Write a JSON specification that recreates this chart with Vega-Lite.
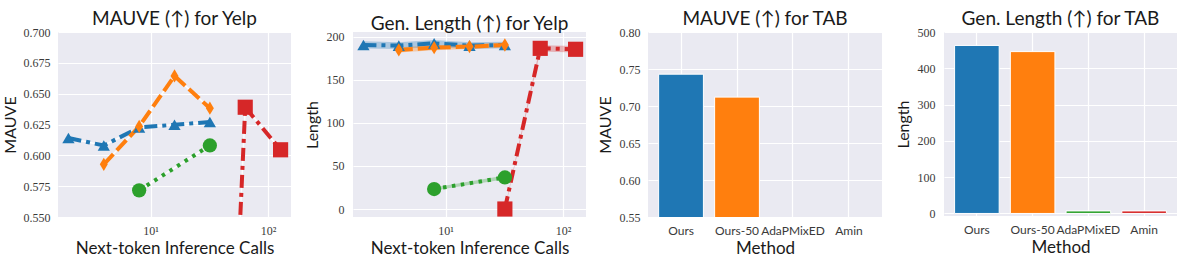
{
  "$schema": "https://vega.github.io/schema/vega-lite/v6.json",
  "padding": {"left": 2, "top": 10, "right": 2, "bottom": 2},
  "bounds": "flush",
  "spacing": 62,
  "datasets": {
    "yelp": [
      {"metric": "mauve", "method": "Ours", "calls": 2, "value": 0.614, "lo": 0.614, "hi": 0.614},
      {"metric": "mauve", "method": "Ours", "calls": 4, "value": 0.608, "lo": 0.608, "hi": 0.608},
      {"metric": "mauve", "method": "Ours", "calls": 8, "value": 0.6226, "lo": 0.6226, "hi": 0.6226},
      {"metric": "mauve", "method": "Ours", "calls": 16, "value": 0.6248, "lo": 0.6248, "hi": 0.6248},
      {"metric": "mauve", "method": "Ours", "calls": 32, "value": 0.627, "lo": 0.627, "hi": 0.627},
      {"metric": "mauve", "method": "Ours-50", "calls": 4, "value": 0.5927, "lo": 0.5927, "hi": 0.5927},
      {"metric": "mauve", "method": "Ours-50", "calls": 8, "value": 0.6234, "lo": 0.6234, "hi": 0.6234},
      {"metric": "mauve", "method": "Ours-50", "calls": 16, "value": 0.6644, "lo": 0.6644, "hi": 0.6644},
      {"metric": "mauve", "method": "Ours-50", "calls": 32, "value": 0.6382, "lo": 0.6382, "hi": 0.6382},
      {"metric": "mauve", "method": "AdaPMixED", "calls": 8, "value": 0.5716, "lo": 0.5716, "hi": 0.5716},
      {"metric": "mauve", "method": "AdaPMixED", "calls": 32, "value": 0.608, "lo": 0.608, "hi": 0.608},
      {"metric": "mauve", "method": "Amin", "calls": 32, "value": 0.005, "lo": 0.005, "hi": 0.005},
      {"metric": "mauve", "method": "Amin", "calls": 64, "value": 0.639, "lo": 0.639, "hi": 0.639},
      {"metric": "mauve", "method": "Amin", "calls": 128, "value": 0.6045, "lo": 0.6045, "hi": 0.6045},
      {"metric": "length", "method": "Ours", "calls": 2, "value": 190.7, "lo": 186.5, "hi": 195},
      {"metric": "length", "method": "Ours", "calls": 4, "value": 190, "lo": 186, "hi": 194},
      {"metric": "length", "method": "Ours", "calls": 8, "value": 192.6, "lo": 188.5, "hi": 196.5},
      {"metric": "length", "method": "Ours", "calls": 16, "value": 190, "lo": 186, "hi": 194},
      {"metric": "length", "method": "Ours", "calls": 32, "value": 190.7, "lo": 187, "hi": 194.5},
      {"metric": "length", "method": "Ours-50", "calls": 4, "value": 184.9, "lo": 182, "hi": 188},
      {"metric": "length", "method": "Ours-50", "calls": 8, "value": 187.6, "lo": 184.5, "hi": 190.5},
      {"metric": "length", "method": "Ours-50", "calls": 16, "value": 188.8, "lo": 186, "hi": 191.5},
      {"metric": "length", "method": "Ours-50", "calls": 32, "value": 190.7, "lo": 188, "hi": 193.5},
      {"metric": "length", "method": "AdaPMixED", "calls": 8, "value": 23.2, "lo": 21.5, "hi": 25},
      {"metric": "length", "method": "AdaPMixED", "calls": 32, "value": 36.7, "lo": 34.5, "hi": 39},
      {"metric": "length", "method": "Amin", "calls": 32, "value": 0, "lo": -1, "hi": 1},
      {"metric": "length", "method": "Amin", "calls": 64, "value": 186.8, "lo": 183, "hi": 190.5},
      {"metric": "length", "method": "Amin", "calls": 128, "value": 185.7, "lo": 182, "hi": 189.5}
    ],
    "tab": [
      {"metric": "mauve", "method": "Ours", "value": 0.743},
      {"metric": "mauve", "method": "Ours-50", "value": 0.712},
      {"metric": "mauve", "method": "AdaPMixED", "value": 0.006},
      {"metric": "mauve", "method": "Amin", "value": 0.004},
      {"metric": "length", "method": "Ours", "value": 463},
      {"metric": "length", "method": "Ours-50", "value": 446},
      {"metric": "length", "method": "AdaPMixED", "value": 7},
      {"metric": "length", "method": "Amin", "value": 7}
    ]
  },
  "config": {
    "view": {"fill": "#EAEAF2", "stroke": null},
    "font": "Lato",
    "axis": {
      "domain": false, "ticks": false, "grid": true, "gridColor": "#FFFFFF", "gridWidth": 1.2,
      "labelFont": "Liberation Serif", "labelFontSize": 12, "labelColor": "#3a3a3a", "labelPadding": 8,
      "titleFont": "Lato", "titleFontSize": 17, "titleFontWeight": "normal", "titleColor": "#1a1a1a", "titlePadding": 6
    },
    "axisY": {"titleFontSize": 16},
    "title": {"font": "Lato", "fontSize": 19, "fontWeight": "normal", "color": "#1a1a1a", "offset": -3}
  },
  "hconcat": [
    {
      "width": 233, "height": 185,
      "title": "MAUVE (↑) for Yelp",
      "data": {"name": "yelp"},
      "transform": [{"filter": "datum.metric == 'mauve'"}],
      "encoding": {
        "x": {"field": "calls", "type": "quantitative", "scale": {"type": "log", "domain": [1.63, 157], "nice": false},
              "axis": {"values": [10, 100], "labelExpr": "datum.value == 10 ? '10¹' : '10²'", "title": "Next-token Inference Calls", "labelPadding": 8, "titlePadding": 4}},
        "y": {"field": "value", "type": "quantitative", "scale": {"domain": [0.55, 0.7], "nice": false, "zero": false},
              "axis": {"values": [0.55, 0.575, 0.6, 0.625, 0.65, 0.675, 0.7], "format": ".3f", "title": "MAUVE", "titlePadding": 5}},
        "color": {"field": "method", "type": "nominal", "scale": {"domain": ["Ours", "Ours-50", "AdaPMixED", "Amin"], "range": ["#1f77b4", "#ff7f0e", "#2ca02c", "#d62728"]}, "legend": null}
      },
      "layer": [
        {"mark": {"type": "line", "color": "#ffffff", "strokeWidth": 1.5, "opacity": 0.9, "clip": true}, "encoding": {"color": {"value": "#ffffff"}, "detail": {"field": "method"}}},
        {"mark": {"type": "line", "strokeWidth": 4, "strokeCap": "butt", "clip": true},
         "encoding": {"strokeDash": {"field": "method", "type": "nominal", "scale": {"domain": ["Ours", "Ours-50", "AdaPMixED", "Amin"], "range": [[13, 5, 4, 5], [14, 5], [3.5, 5.5], [13, 5, 4, 5]]}, "legend": null}}},
        {"mark": {"type": "point", "filled": true, "opacity": 1, "clip": true},
         "encoding": {
           "shape": {"field": "method", "type": "nominal", "scale": {"domain": ["Ours", "Ours-50", "AdaPMixED", "Amin"], "range": ["triangle-up", "M0,-1L0.6,0L0,1L-0.6,0Z", "circle", "square"]}, "legend": null},
           "size": {"field": "method", "type": "ordinal", "scale": {"domain": ["Ours", "Ours-50", "AdaPMixED", "Amin"], "range": [150, 230, 115, 125]}, "legend": null}
         }}
      ]
    },
    {
      "width": 233, "height": 185,
      "title": "Gen. Length (↑) for Yelp",
      "data": {"name": "yelp"},
      "transform": [{"filter": "datum.metric == 'length'"}],
      "encoding": {
        "x": {"field": "calls", "type": "quantitative", "scale": {"type": "log", "domain": [1.63, 157], "nice": false},
              "axis": {"values": [10, 100], "labelExpr": "datum.value == 10 ? '10¹' : '10²'", "title": "Next-token Inference Calls", "labelPadding": 8, "titlePadding": 4}},
        "y": {"field": "value", "type": "quantitative", "scale": {"domain": [-9.3, 205.8], "nice": false, "zero": false},
              "axis": {"values": [0, 50, 100, 150, 200], "title": "Length", "labelPadding": 9}},
        "color": {"field": "method", "type": "nominal", "scale": {"domain": ["Ours", "Ours-50", "AdaPMixED", "Amin"], "range": ["#1f77b4", "#ff7f0e", "#2ca02c", "#d62728"]}, "legend": null}
      },
      "layer": [
        {"mark": {"type": "area", "opacity": 0.3, "clip": true}, "encoding": {"y": {"field": "lo", "type": "quantitative"}, "y2": {"field": "hi"}}},
        {"mark": {"type": "line", "strokeWidth": 4, "strokeCap": "butt", "clip": true},
         "encoding": {"strokeDash": {"field": "method", "type": "nominal", "scale": {"domain": ["Ours", "Ours-50", "AdaPMixED", "Amin"], "range": [[13, 5, 4, 5], [14, 5], [3.5, 5.5], [13, 5, 4, 5]]}, "legend": null}}},
        {"mark": {"type": "point", "filled": true, "opacity": 1, "clip": true},
         "encoding": {
           "shape": {"field": "method", "type": "nominal", "scale": {"domain": ["Ours", "Ours-50", "AdaPMixED", "Amin"], "range": ["triangle-up", "M0,-1L0.6,0L0,1L-0.6,0Z", "circle", "square"]}, "legend": null},
           "size": {"field": "method", "type": "ordinal", "scale": {"domain": ["Ours", "Ours-50", "AdaPMixED", "Amin"], "range": [150, 230, 115, 125]}, "legend": null}
         }}
      ]
    },
    {
      "width": 234, "height": 185,
      "title": "MAUVE (↑) for TAB",
      "data": {"name": "tab"},
      "transform": [{"filter": "datum.metric == 'mauve'"}],
      "mark": {"type": "bar", "clip": true, "stroke": "#ffffff", "strokeWidth": 1},
      "encoding": {
        "x": {"field": "method", "type": "nominal", "sort": ["Ours", "Ours-50", "AdaPMixED", "Amin"], "scale": {"paddingInner": 0.2, "paddingOuter": 0.19},
              "axis": {"labelAngle": 0, "title": "Method", "grid": true, "bandPosition": 0.5, "labelFont": "Lato", "labelFontSize": 12, "labelPadding": 8, "titlePadding": 4}},
        "y": {"field": "value", "type": "quantitative", "scale": {"domain": [0.55, 0.8], "nice": false, "zero": false},
              "axis": {"values": [0.55, 0.6, 0.65, 0.7, 0.75, 0.8], "format": ".2f", "title": "MAUVE"}},
        "color": {"field": "method", "type": "nominal", "scale": {"domain": ["Ours", "Ours-50", "AdaPMixED", "Amin"], "range": ["#1f77b4", "#ff7f0e", "#2ca02c", "#d62728"]}, "legend": null}
      }
    },
    {
      "width": 233, "height": 184,
      "title": "Gen. Length (↑) for TAB",
      "data": {"name": "tab"},
      "transform": [{"filter": "datum.metric == 'length'"}],
      "mark": {"type": "bar", "clip": true, "stroke": "#ffffff", "strokeWidth": 1},
      "encoding": {
        "x": {"field": "method", "type": "nominal", "sort": ["Ours", "Ours-50", "AdaPMixED", "Amin"], "scale": {"paddingInner": 0.2, "paddingOuter": 0.19},
              "axis": {"labelAngle": 0, "title": "Method", "grid": true, "bandPosition": 0.5, "labelFont": "Lato", "labelFontSize": 12, "labelPadding": 8, "titlePadding": 4}},
        "y": {"field": "value", "type": "quantitative", "scale": {"domain": [-7, 500], "nice": false, "zero": false},
              "axis": {"values": [0, 100, 200, 300, 400, 500], "title": "Length", "labelPadding": 9}},
        "color": {"field": "method", "type": "nominal", "scale": {"domain": ["Ours", "Ours-50", "AdaPMixED", "Amin"], "range": ["#1f77b4", "#ff7f0e", "#2ca02c", "#d62728"]}, "legend": null}
      }
    }
  ]
}
